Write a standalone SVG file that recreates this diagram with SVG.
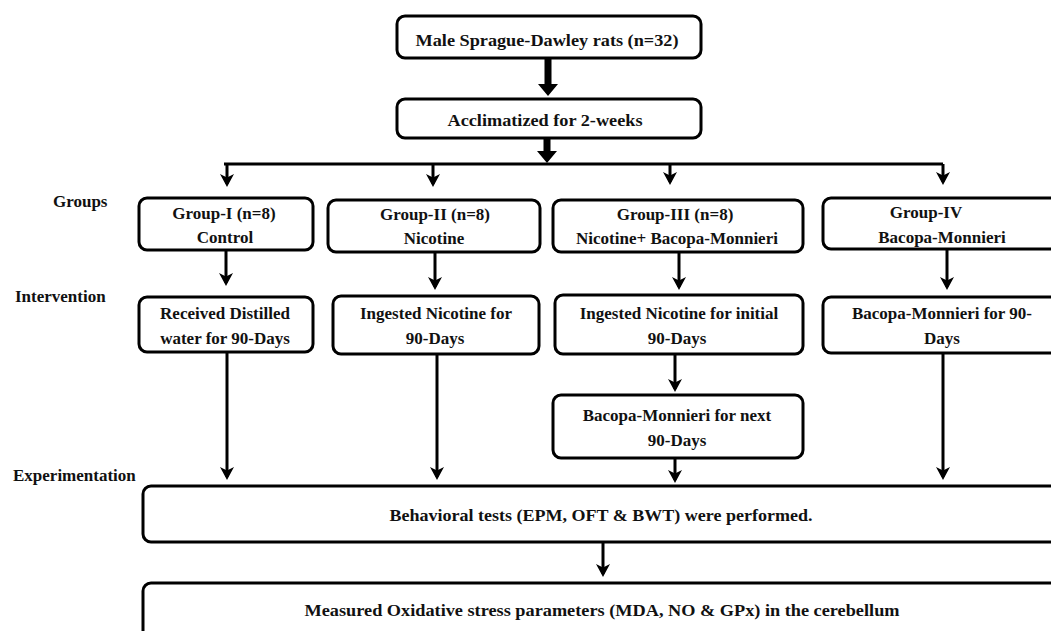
<svg xmlns="http://www.w3.org/2000/svg" width="1051" height="631" viewBox="0 0 1051 631">
<defs>
<style>
.box{fill:#fff;stroke:#000;stroke-width:3}
.t{font-family:"Liberation Serif","Times New Roman",serif;font-weight:bold;font-size:17px;fill:#111;text-anchor:middle}
.lbl{font-family:"Liberation Serif","Times New Roman",serif;font-weight:bold;font-size:17px;fill:#111}
.c{stroke:#000;stroke-width:3;fill:none}
.blk{fill:#000}
</style>
<marker id="ah" viewBox="0 0 13 14" refX="10" refY="7" markerWidth="13" markerHeight="14" markerUnits="userSpaceOnUse" orient="auto">
<path d="M0,0 L13,7 L0,14 L3.5,7 z" fill="#000"/>
</marker>
</defs>
<rect width="1051" height="631" fill="#fff"/>

<g id="labels">
<text class="lbl" x="53" y="207">Groups</text>
<text class="lbl" x="15" y="302">Intervention</text>
<text class="lbl" x="13" y="481">Experimentation</text>
</g>

<g id="connectors">
<polygon class="blk" points="544.5,58 551.5,58 551.5,84 558,84 548,96 538,84 544.5,84"/>
<polygon class="blk" points="543.5,138 550.5,138 550.5,151 557,151 547,163 537,151 543.5,151"/>
<polyline class="c" points="224,164 943,164"/>
<line class="c" x1="227" y1="164" x2="227" y2="184" marker-end="url(#ah)"/>
<line class="c" x1="433" y1="164" x2="433" y2="184" marker-end="url(#ah)"/>
<line class="c" x1="670" y1="164" x2="670" y2="182" marker-end="url(#ah)"/>
<line class="c" x1="943" y1="164" x2="943" y2="182" marker-end="url(#ah)"/>
<line class="c" x1="226" y1="250" x2="226" y2="283" marker-end="url(#ah)"/>
<line class="c" x1="435" y1="252" x2="435" y2="287" marker-end="url(#ah)"/>
<line class="c" x1="679" y1="252" x2="679" y2="287" marker-end="url(#ah)"/>
<line class="c" x1="947" y1="249" x2="947" y2="287" marker-end="url(#ah)"/>
<line class="c" x1="227" y1="352" x2="227" y2="477" marker-end="url(#ah)"/>
<line class="c" x1="437" y1="354" x2="437" y2="477" marker-end="url(#ah)"/>
<line class="c" x1="943" y1="353" x2="943" y2="477" marker-end="url(#ah)"/>
<line class="c" x1="675" y1="354" x2="675" y2="389" marker-end="url(#ah)"/>
<line class="c" x1="675" y1="458" x2="675" y2="480" marker-end="url(#ah)"/>
<line class="c" x1="603" y1="542" x2="603" y2="574" marker-end="url(#ah)"/>
</g>

<g id="n-rats">
<rect class="box" x="397" y="16" width="304" height="42" rx="8"/>
<text class="t" x="547" y="46" textLength="263" lengthAdjust="spacingAndGlyphs">Male Sprague-Dawley   rats (n=32)</text>
</g>
<g id="n-acclim">
<rect class="box" x="397" y="99" width="304" height="39" rx="8"/>
<text class="t" x="545" y="126" textLength="195" lengthAdjust="spacingAndGlyphs">Acclimatized  for 2-weeks</text>
</g>

<g id="n-g1">
<rect class="box" x="139" y="198" width="174" height="52" rx="8"/>
<text class="t" x="224" y="219">Group-I  (n=8)</text>
<text class="t" x="225" y="243">Control</text>
</g>
<g id="n-g2">
<rect class="box" x="328" y="200" width="212" height="52" rx="8"/>
<text class="t" x="435" y="220">Group-II  (n=8)</text>
<text class="t" x="434" y="244">Nicotine</text>
</g>
<g id="n-g3">
<rect class="box" x="553" y="200" width="250" height="52" rx="8"/>
<text class="t" x="675" y="220">Group-III  (n=8)</text>
<text class="t" x="677" y="244">Nicotine+ Bacopa-Monnieri</text>
</g>
<g id="n-g4">
<rect class="box" x="823" y="198" width="250" height="51" rx="8"/>
<text class="t" x="926" y="218">Group-IV</text>
<text class="t" x="942" y="243">Bacopa-Monnieri</text>
</g>

<g id="n-i1">
<rect class="box" x="139" y="297" width="174" height="55" rx="8"/>
<text class="t" x="225" y="319">Received Distilled</text>
<text class="t" x="225" y="344">water for 90-Days</text>
</g>
<g id="n-i2">
<rect class="box" x="333" y="296" width="206" height="58" rx="8"/>
<text class="t" x="436" y="319">Ingested Nicotine for</text>
<text class="t" x="435" y="344">90-Days</text>
</g>
<g id="n-i3">
<rect class="box" x="555" y="295" width="248" height="59" rx="8"/>
<text class="t" x="679" y="319">Ingested Nicotine for initial</text>
<text class="t" x="677" y="344">90-Days</text>
</g>
<g id="n-i4">
<rect class="box" x="823" y="297" width="250" height="56" rx="8"/>
<text class="t" x="942" y="319">Bacopa-Monnieri  for 90-</text>
<text class="t" x="942" y="344">Days</text>
</g>

<g id="n-bnext">
<rect class="box" x="553" y="395" width="250" height="63" rx="8"/>
<text class="t" x="677" y="421">Bacopa-Monnieri  for next</text>
<text class="t" x="677" y="446">90-Days</text>
</g>

<g id="n-behav">
<rect class="box" x="143" y="486" width="930" height="56" rx="8"/>
<text class="t" x="601" y="521" textLength="423" lengthAdjust="spacingAndGlyphs">Behavioral tests (EPM, OFT &amp; BWT) were performed.</text>
</g>
<g id="n-oxid">
<rect class="box" x="143" y="583" width="930" height="70" rx="8"/>
<text class="t" x="602" y="616" textLength="595" lengthAdjust="spacingAndGlyphs">Measured  Oxidative  stress parameters (MDA, NO &amp; GPx) in the cerebellum</text>
</g>
</svg>
